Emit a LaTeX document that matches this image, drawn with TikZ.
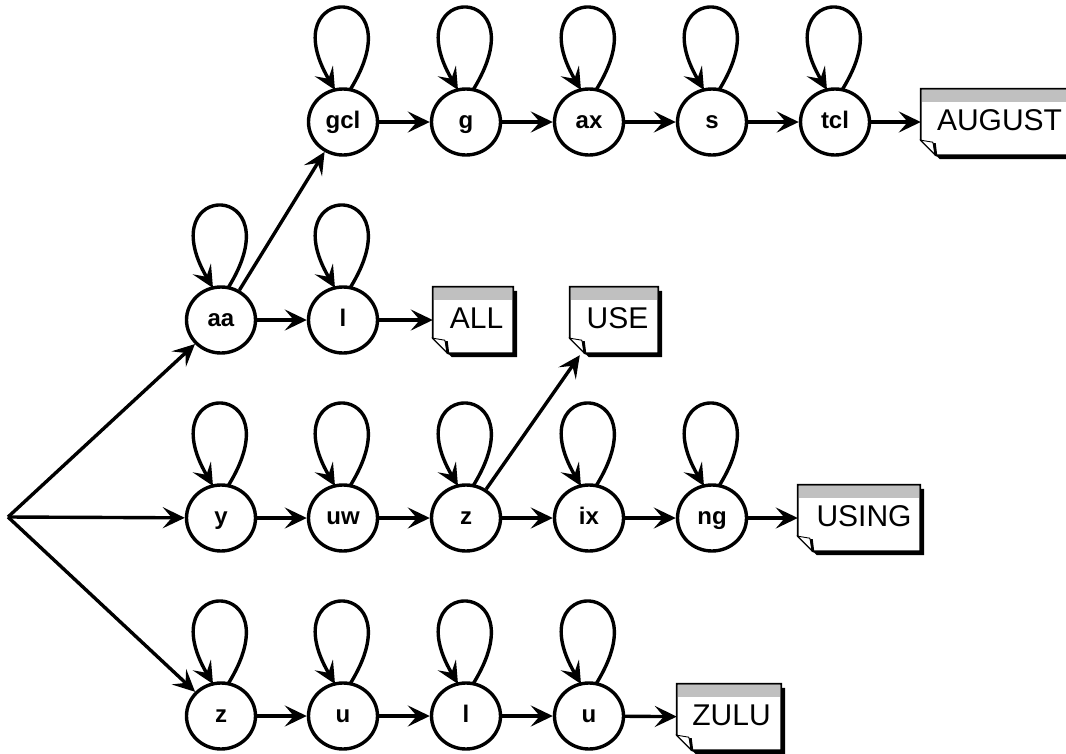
\documentclass[tikz,border=0pt]{standalone}
\usepackage{fontspec}
\setmainfont{Liberation Sans}
\usetikzlibrary{arrows.meta,shapes.geometric}
\pgfdeclarelayer{bg}
\pgfsetlayers{bg,main}
\definecolor{band}{RGB}{192,192,192}
\tikzset{
 st/.style={ellipse, draw, line width=3.4pt, minimum width=69pt, minimum height=66pt, inner sep=0pt, fill=white, font=\fontsize{24}{26}\selectfont\bfseries, text height=17.5pt, text depth=5pt},
 edge/.style={line width=3.4pt, -{Stealth[length=22pt,width=21pt,inset=9pt]}},
 doc/.style={rectangle, inner sep=0pt, minimum height=66pt, font=\fontsize{30}{32}\selectfont, text height=21.5pt, text depth=5.5pt},
}
\newcommand\selfloop[1]{%
 \draw[edge] ([shift={(7,32)}]#1.center) .. controls ([shift={(75,141)}]#1.center) and ([shift={(-72,141)}]#1.center) .. ([shift={(-8,32)}]#1.center);}
\newcommand\docdeco[1]{%
 \begin{pgfonlayer}{bg}
 \fill[black] ([shift={(4,-4)}]#1.north west) -- ([shift={(4,-4)}]#1.north east) -- ([shift={(4,-4)}]#1.south east) -- ([shift={(19,-4)}]#1.south west) -- ([shift={(4,11)}]#1.south west) -- cycle;
 \filldraw[fill=white,draw=black,line width=1.8pt] (#1.north west) -- (#1.north east) -- (#1.south east) -- ([xshift=15pt]#1.south west) -- ([yshift=15pt]#1.south west) -- cycle;
 \fill[band] ([shift={(0.9,-0.9)}]#1.north west) rectangle ([shift={(-0.9,-13)}]#1.north east);
 \filldraw[fill=white,draw=black,line width=0.9pt] ([yshift=15pt]#1.south west) -- ([shift={(12,13)}]#1.south west) -- ([xshift=15pt]#1.south west) -- cycle;
 \draw[line width=2.8pt] ([shift={(13.5,12)}]#1.south west) -- ([xshift=15pt]#1.south west);
 \end{pgfonlayer}}
\begin{document}
\begin{tikzpicture}[x=1pt,y=1pt]
\useasboundingbox (0,0) rectangle (1066,-753);
% row 1
\node[st] (gcl) at (343,-122) {gcl};
\node[st] (g) at (466,-122) {g};
\node[st] (ax) at (589,-122) {ax};
\node[st] (s) at (712,-122) {s};
\node[st] (tcl) at (835,-122) {tcl};
\node[doc, minimum width=147pt] (AUGUST) at (994.5,-122) {\hspace*{10pt}AUGUST};
% row 2
\node[st] (aa) at (221,-320) {aa};
\node[st] (l2) at (343,-320) {l};
\node[doc, minimum width=80pt] (ALL) at (473,-320) {\hspace*{7pt}ALL};
\node[doc, minimum width=88pt] (USE) at (614,-320) {\hspace*{7pt}USE};
% row 3
\node[st] (y3) at (221,-518) {y};
\node[st] (uw3) at (343,-518) {uw};
\node[st] (z3) at (466,-518) {z};
\node[st] (ix3) at (589,-518) {ix};
\node[st] (ng3) at (712,-518) {ng};
\node[doc, minimum width=122pt] (USING) at (859,-518) {\hspace*{10pt}USING};
% row 4
\node[st] (z4) at (221,-716) {z};
\node[st] (u4) at (343,-716) {u};
\node[st] (l4) at (466,-716) {l};
\node[st] (uu4) at (589,-716) {u};
\node[doc, minimum width=104pt] (ZULU) at (729,-717) {\hspace*{5pt}ZULU};
\coordinate (src) at (8,-517);
\foreach \b in {AUGUST,ALL,USE,USING,ZULU} {\docdeco{\b}}
\foreach \n in {gcl,g,ax,s,tcl,aa,l2,y3,uw3,z3,ix3,ng3,z4,u4,l4,uu4} {\selfloop{\n}}
\draw[edge] (src) -- (aa);
\draw[edge] (src) -- (y3);
\draw[edge] (src) -- (z4);
\draw[edge] (aa) -- (gcl);
\draw[edge] (aa) -- (l2);
\draw[edge] (l2) -- (ALL);
\draw[edge] (gcl) -- (g);
\draw[edge] (g) -- (ax);
\draw[edge] (ax) -- (s);
\draw[edge] (s) -- (tcl);
\draw[edge] (tcl) -- (AUGUST);
\draw[edge] (y3) -- (uw3);
\draw[edge] (uw3) -- (z3);
\draw[edge] (z3) -- (ix3);
\draw[edge] (ix3) -- (ng3);
\draw[edge] (ng3) -- (USING);
\draw[edge] (z3) -- ([shift={(10,-2)}]USE.south west);
\draw[edge] (z4) -- (u4);
\draw[edge] (u4) -- (l4);
\draw[edge] (l4) -- (uu4);
\draw[edge] (uu4) -- (ZULU);
\end{tikzpicture}
\end{document}
